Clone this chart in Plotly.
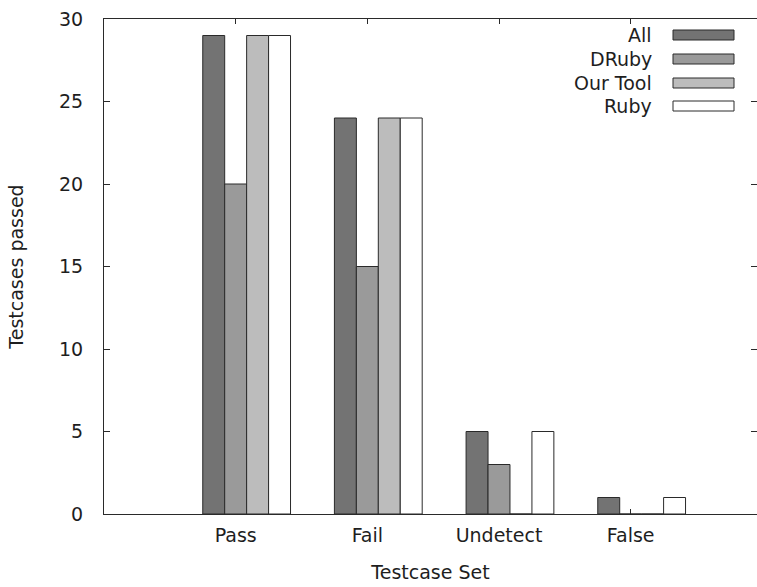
import plotly.graph_objects as go

categories = ["Pass", "Fail", "Undetect", "False"]
series_names = ["All", "DRuby", "Our Tool", "Ruby"]
all_vals = [29, 24, 5, 1]
druby_vals = [20, 15, 3, 0]
ourtool_vals = [29, 24, 0, 0]
ruby_vals = [29, 24, 5, 1]
y_ticks = [0, 5, 10, 15, 20, 25, 30]

series_values = [all_vals, druby_vals, ourtool_vals, ruby_vals]
colors = ["#737373", "#9a9a9a", "#bcbcbc", "#ffffff"]

W, H = 757, 587
L, R, T, B = 104, 757, 19, 514
FONT = "DejaVu Sans"
FS = 19
TXT = "#1e1e1e"
EDGE = "#2a2a2a"

bw = 1.0 / 6.0
fig = go.Figure()
for j, (name, vals, col) in enumerate(zip(series_names, series_values, colors)):
    xs = [i + (j - 1) * bw for i in range(len(categories))]
    fig.add_trace(go.Bar(
        x=xs, y=vals, width=bw, name=name,
        marker=dict(color=col, line=dict(color=EDGE, width=1)),
        showlegend=False, hoverinfo="skip",
    ))

x_lo = -1.0
x_hi = x_lo + (R - L) / 131.67

fig.update_layout(
    width=W, height=H,
    margin=dict(l=L, r=W - R, t=T, b=H - B, pad=0),
    plot_bgcolor="white", paper_bgcolor="white",
    barmode="overlay",
    font=dict(family=FONT, size=FS, color=TXT),
    xaxis=dict(
        range=[x_lo, x_hi],
        tickvals=list(range(len(categories))), ticktext=categories,
        ticks="inside", ticklen=5, tickcolor=EDGE, tickwidth=1,
        showline=True, linecolor=EDGE, linewidth=1, mirror="ticks",
        showgrid=False, zeroline=False, layer="below traces",
        ticklabelstandoff=4,
        title=dict(text="Testcase Set", standoff=20, font=dict(size=FS)),
    ),
    yaxis=dict(
        range=[0, 30], tickvals=y_ticks,
        ticks="inside", ticklen=6, tickcolor=EDGE, tickwidth=1,
        showline=True, linecolor=EDGE, linewidth=1, mirror="ticks",
        showgrid=False, zeroline=False,
        ticklabelstandoff=16,
        title=dict(text="Testcases passed", standoff=30, font=dict(size=FS)),
    ),
)

def px(x):
    return (x - L) / (R - L)

def py(y):
    return (B - y) / (B - T)

row_y = [35, 59, 83, 106]
for name, col, yy in zip(series_names, colors, row_y):
    fig.add_shape(type="rect", xref="paper", yref="paper",
                  x0=px(673), x1=px(734), y0=py(yy + 5), y1=py(yy - 5),
                  fillcolor=col, line=dict(color=EDGE, width=1))
    fig.add_annotation(xref="paper", yref="paper", x=px(654), y=py(yy),
                       text=name, showarrow=False, xanchor="right",
                       yanchor="middle", font=dict(family=FONT, size=FS, color=TXT))

fig.write_html(
    "out.html",
    config={"displayModeBar": False},
    post_script="document.body.style.margin='0';document.body.style.overflow='hidden';",
)
